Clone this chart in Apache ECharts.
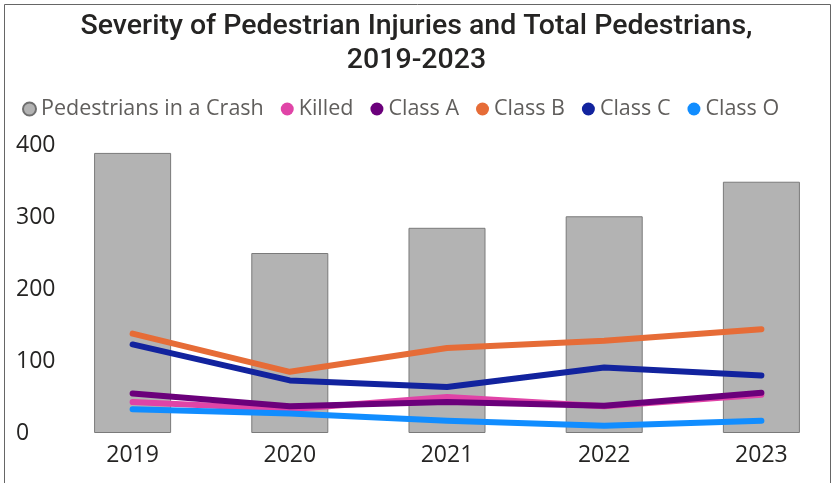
<!DOCTYPE html>
<html>
<head>
<meta charset="utf-8">
<script src="https://cdn.jsdelivr.net/npm/echarts@6/dist/echarts.min.js"></script>
<style>
  html, body { margin: 0; padding: 0; background: #fff; }
  #chart { width: 833px; height: 483px; }
</style>
</head>
<body>
<div id="chart"></div>
<script>
const years = ['2019', '2020', '2021', '2022', '2023'];
const pedestrians = [389, 250, 285, 301, 349];
const killed = [43, 33, 50, 37, 53];
const classA = [55, 37, 43, 38, 56];
const classB = [138, 85, 118, 128, 144];
const classC = [123, 73, 64, 91, 80];
const classO = [33, 27, 17, 10, 17];
const yTicks = [0, 100, 200, 300, 400];

const font = '"Open Sans", "Noto Sans", sans-serif';

const lineSeries = (name, data, color) => ({
  name,
  type: 'line',
  data,
  symbol: 'none',
  lineStyle: { width: 6, color, cap: 'round', join: 'round' },
  itemStyle: { color },
});

const chart = echarts.init(document.getElementById('chart'));

chart.setOption({
  animation: false,
  title: {
    text: 'Severity of Pedestrian Injuries and Total Pedestrians,\n2019-2023',
    left: 'center',
    top: 5,
    textStyle: {
      fontFamily: 'Roboto, sans-serif',
      fontWeight: 500,
      fontSize: 28.5,
      lineHeight: 34,
      color: '#252423',
    },
  },
  legend: {
    left: 17,
    top: 93,
    itemGap: 17,
    itemWidth: 13,
    itemHeight: 13,
    icon: 'circle',
    textStyle: { fontFamily: font, fontSize: 21.5, color: '#605E5C' },
    data: [
      { name: 'Pedestrians in a Crash', itemStyle: { color: '#B3B3B3', borderColor: '#6f6f6f', borderWidth: 2 } },
      'Killed', 'Class A', 'Class B', 'Class C', 'Class O',
    ],
  },
  grid: { left: 54, top: 145, width: 786, bottom: 50, outerBoundsMode: 'none' },
  xAxis: {
    type: 'category',
    data: years,
    axisLine: { show: false },
    axisTick: { show: false },
    axisLabel: { fontFamily: font, fontSize: 23, color: '#252423', margin: 11 },
  },
  yAxis: {
    type: 'value',
    min: yTicks[0],
    max: yTicks[yTicks.length - 1],
    interval: 100,
    splitLine: { show: false },
    axisLabel: { fontFamily: font, fontSize: 23, color: '#252423', align: 'left', margin: 38 },
  },
  series: [
    {
      name: 'Pedestrians in a Crash',
      type: 'bar',
      data: pedestrians,
      barWidth: '49%',
      itemStyle: { color: '#B3B3B3', borderColor: '#7a7a7a', borderWidth: 1 },
    },
    lineSeries('Killed', killed, '#E044A7'),
    lineSeries('Class A', classA, '#6B007B'),
    lineSeries('Class B', classB, '#E66C37'),
    lineSeries('Class C', classC, '#12239E'),
    lineSeries('Class O', classO, '#118DFF'),
  ],
  graphic: [{
    type: 'rect',
    shape: { x: 4.5, y: 4.5, width: 826, height: 490 },
    style: { fill: 'none', stroke: '#666', lineWidth: 1 },
    z: 100,
  }],
});
</script>
</body>
</html>
